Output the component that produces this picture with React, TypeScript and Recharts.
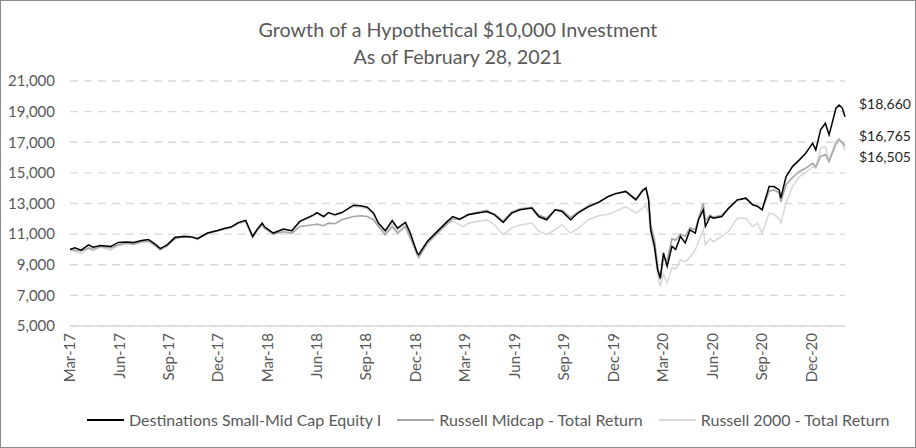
import React from 'react';
import { LineChart, Line, XAxis, YAxis, CartesianGrid } from 'recharts';

const dates = [
  '2017-03-01', '2017-03-10', '2017-03-22', '2017-04-05', '2017-04-13', '2017-04-28', '2017-05-17', '2017-05-31',
  '2017-06-15', '2017-06-29', '2017-07-14', '2017-07-27', '2017-08-10', '2017-08-18', '2017-08-31', '2017-09-15',
  '2017-10-02', '2017-10-16', '2017-10-27', '2017-11-15', '2017-12-04', '2017-12-18', '2017-12-29', '2018-01-12',
  '2018-01-26', '2018-02-08', '2018-02-16', '2018-02-26', '2018-03-03', '2018-03-19', '2018-04-07', '2018-04-23',
  '2018-05-08', '2018-06-03', '2018-06-09', '2018-06-22', '2018-07-01', '2018-07-13', '2018-07-26', '2018-08-17',
  '2018-08-30', '2018-09-12', '2018-09-24', '2018-10-03', '2018-10-16', '2018-10-29', '2018-11-08', '2018-11-23',
  '2018-12-02', '2018-12-15', '2018-12-18', '2019-01-03', '2019-01-22', '2019-02-10', '2019-02-20', '2019-03-05',
  '2019-03-12', '2019-03-21', '2019-04-03', '2019-04-25', '2019-05-10', '2019-05-26', '2019-06-11', '2019-06-27',
  '2019-07-19', '2019-08-01', '2019-08-16', '2019-09-01', '2019-09-14', '2019-09-30', '2019-10-15', '2019-11-03',
  '2019-11-22', '2019-12-10', '2019-12-23', '2020-01-12', '2020-01-31', '2020-02-13', '2020-02-19', '2020-02-24',
  '2020-02-28', '2020-03-06', '2020-03-12', '2020-03-17', '2020-03-23', '2020-03-30', '2020-04-08', '2020-04-15',
  '2020-04-24', '2020-05-03', '2020-05-12', '2020-05-22', '2020-05-28', '2020-06-06', '2020-06-10', '2020-06-19',
  '2020-06-25', '2020-07-11', '2020-07-24', '2020-08-09', '2020-08-25', '2020-09-07', '2020-09-16', '2020-09-25',
  '2020-10-08', '2020-10-17', '2020-10-27', '2020-10-30', '2020-11-09', '2020-11-21', '2020-12-04', '2020-12-16',
  '2020-12-29', '2021-01-04', '2021-01-13', '2021-01-22', '2021-01-29', '2021-02-11', '2021-02-17', '2021-02-23',
  '2021-02-28',
];

const fund = [
  10000, 10100, 9950, 10300, 10150, 10250, 10200, 10460,
  10490, 10450, 10580, 10650, 10300, 10050, 10300, 10790,
  10850, 10820, 10700, 11070, 11240, 11380, 11460, 11750,
  11900, 10850, 11280, 11720, 11460, 11070, 11330, 11220,
  11830, 12260, 12410, 12150, 12410, 12260, 12410, 12890,
  12850, 12760, 12370, 11720, 11220, 11890, 11390, 11760,
  11070, 9770, 9660, 10520, 11180, 11830, 12150, 11980,
  12090, 12260, 12350, 12480, 12260, 11760, 12370, 12590,
  12700, 12150, 11940, 12590, 12480, 11940, 12410, 12800,
  13070, 13460, 13630, 13790, 13240, 13850, 14000, 13240,
  11280, 10200, 8680, 8130, 9770, 8900, 10200, 10000,
  10850, 10420, 11280, 11070, 11940, 12590, 11500, 12150,
  12040, 12150, 12700, 13240, 13350, 12920, 12810, 12590,
  14110, 14110, 13890, 13350, 14760, 15410, 15850, 16280,
  16940, 16500, 17810, 18240, 17480, 19220, 19430, 19220,
  18660,
];

const midcap = [
  10000, 9950, 9900, 10100, 10000, 10200, 10100, 10300,
  10400, 10350, 10500, 10550, 10250, 10000, 10250, 10700,
  10850, 10800, 10700, 11050, 11200, 11350, 11450, 11700,
  11850, 10800, 11200, 11600, 11350, 11000, 11150, 11050,
  11500, 11610, 11650, 11550, 11720, 11680, 11940, 12150,
  12200, 12150, 11940, 11500, 10960, 11500, 11070, 11500,
  10740, 9700, 9500, 10420, 11070, 11720, 12000, 11940,
  12100, 12300, 12400, 12550, 12300, 11850, 12450, 12650,
  12750, 12250, 12050, 12600, 12550, 12100, 12450, 12850,
  13100, 13450, 13650, 13800, 13300, 13900, 14050, 13300,
  11600, 10700, 8900, 8030, 9400, 9300, 10700, 10600,
  11000, 10850, 11400, 11300, 12000, 13020, 11900, 12250,
  12100, 12250, 12700, 13200, 13350, 12950, 12850, 12600,
  13800, 13890, 13700, 13100, 14220, 14700, 15090, 15300,
  15630, 15400, 16060, 16200, 15740, 16900, 17150, 17000,
  16765,
];

const russell2000 = [
  10000, 9900, 9750, 10050, 9900, 10150, 9950, 10250,
  10400, 10350, 10450, 10500, 10150, 9950, 10200, 10700,
  10900, 10850, 10650, 11000, 11250, 11300, 11400, 11700,
  11900, 10750, 11250, 11650, 11400, 11050, 11250, 11150,
  11800, 12200, 12350, 12100, 12350, 12200, 12380, 12800,
  12750, 12650, 12250, 11600, 11050, 11700, 11250, 11600,
  10900, 9600, 9440, 10350, 11000, 11650, 11850, 11610,
  11500, 11700, 11800, 11940, 11600, 10960, 11400, 11600,
  11720, 11200, 10960, 11300, 11610, 11070, 11400, 11940,
  12200, 12300, 12480, 12800, 12370, 12700, 12900, 12300,
  11000, 10000, 8300, 7590, 8400, 7830, 8800, 8700,
  9330, 9200, 9500, 9980, 10500, 11280, 10310, 10700,
  10500, 10850, 11200, 12040, 12040, 11500, 11700, 11070,
  12370, 12300, 12000, 11720, 13020, 14110, 14760, 15000,
  15410, 15300, 16610, 16700, 15850, 17100, 17260, 16900,
  16505,
];

// label positions on the axis (one every ~64 trading sessions)
const tickDates = [
  '2017-03-01', '2017-06-02', '2017-09-03', '2017-12-05', '2018-03-08', '2018-06-09', '2018-09-10', '2018-12-12',
  '2019-03-15', '2019-06-16', '2019-09-18', '2019-12-20', '2020-03-22', '2020-06-24', '2020-09-25', '2020-12-27',
];

const yTicks = [5000, 7000, 9000, 11000, 13000, 15000, 17000, 19000, 21000];

const endLabels = ['$18,660', '$16,765', '$16,505'];

const seriesNames = ['Destinations Small-Mid Cap Equity I', 'Russell Midcap - Total Return', 'Russell 2000 - Total Return'];
const seriesColors = ['#000000', '#a6a6a6', '#d9d9d9'];

const MONTHS = ['Jan', 'Feb', 'Mar', 'Apr', 'May', 'Jun', 'Jul', 'Aug', 'Sep', 'Oct', 'Nov', 'Dec'];
const toTime = (s: string) => Date.parse(s + 'T00:00:00Z');

const rows = dates.map((d, i) => ({
  t: toTime(d),
  fund: fund[i],
  midcap: midcap[i],
  r2000: russell2000[i],
}));

const FONT = "Lato, 'Open Sans', sans-serif";
const TEXT = '#595959';

const fmtDate = (v: number) => {
  const d = new Date(v);
  return `${MONTHS[d.getUTCMonth()]}-${String(d.getUTCFullYear()).slice(2)}`;
};

const DateTick = (props: any) => {
  const { x, y, payload } = props;
  return (
    <g transform={`translate(${x},${y})`}>
      <text transform="rotate(-90)" textAnchor="end" dy="0.35em" fill={TEXT} fontSize={15} fontFamily={FONT}>
        {fmtDate(payload.value)}
      </text>
    </g>
  );
};

const App = () => {
  return (
    <div
      style={{
        position: 'relative',
        width: 916,
        height: 448,
        boxSizing: 'border-box',
        border: '1px solid #8c8c8c',
        background: '#fff',
        fontFamily: FONT,
      }}
    >
      <style>{'body{margin:0}'}</style>
      <div
        style={{
          position: 'absolute',
          top: 15,
          left: 0,
          width: 914,
          textAlign: 'center',
          color: TEXT,
          fontSize: 19.7,
          lineHeight: '27px',
        }}
      >
        <div>Growth of a Hypothetical $10,000 Investment</div>
        <div>As of February 28, 2021</div>
      </div>

      <LineChart width={914} height={446} data={rows} margin={{ top: 80, right: 70, bottom: 0, left: 0 }}>
        <CartesianGrid vertical={false} stroke="#d9d9d9" strokeDasharray="8 6" strokeWidth={1.3} />
        <XAxis
          dataKey="t"
          type="number"
          scale="linear"
          domain={[toTime('2017-03-01'), toTime('2021-02-28')]}
          ticks={tickDates.map(toTime)}
          interval={0}
          tick={<DateTick />}
          tickLine={false}
          tickMargin={1}
          axisLine={{ stroke: '#d9d9d9', strokeWidth: 1.3 }}
          height={121}
        />
        <YAxis
          domain={[5000, 21000]}
          ticks={yTicks}
          width={69}
          axisLine={false}
          tickLine={false}
          tickMargin={9}
          tick={{ fill: TEXT, fontSize: 15, fontFamily: FONT }}
          tickFormatter={(v: number) => v.toLocaleString('en-US')}
        />
        <Line type="linear" dataKey="r2000" stroke={seriesColors[2]} strokeWidth={1.6} dot={false} isAnimationActive={false} />
        <Line type="linear" dataKey="midcap" stroke={seriesColors[1]} strokeWidth={1.6} dot={false} isAnimationActive={false} />
        <Line type="linear" dataKey="fund" stroke={seriesColors[0]} strokeWidth={1.5} dot={false} isAnimationActive={false} />
      </LineChart>

      {endLabels.map((s, i) => (
        <div
          key={s}
          style={{
            position: 'absolute',
            left: 858,
            top: [94, 126, 147][i],
            fontSize: 14,
            lineHeight: '18px',
            color: '#262626',
          }}
        >
          {s}
        </div>
      ))}

      <div
        style={{
          position: 'absolute',
          top: 408,
          left: 86,
          display: 'flex',
          alignItems: 'center',
          color: TEXT,
          fontSize: 16,
          lineHeight: '22px',
          whiteSpace: 'nowrap',
        }}
      >
        {seriesNames.map((n, i) => (
          <div key={n} style={{ display: 'flex', alignItems: 'center', marginRight: 16 }}>
            <span style={{ display: 'inline-block', width: 37, height: 2, background: seriesColors[i], marginRight: 5 }} />
            <span>{n}</span>
          </div>
        ))}
      </div>
    </div>
  );
};

export default App;
